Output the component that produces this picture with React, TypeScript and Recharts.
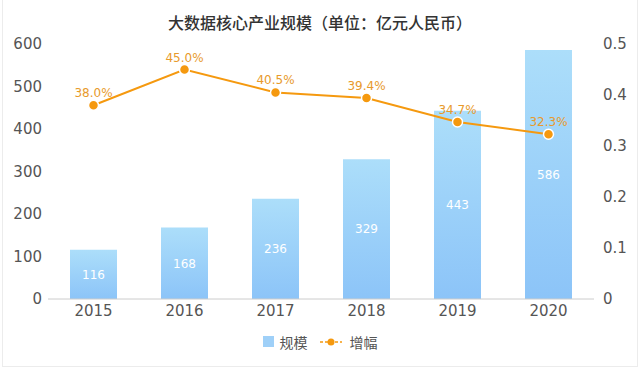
import React from "react"
import { ComposedChart, Bar, Line, XAxis, YAxis, LabelList, Legend } from "recharts"

const years = ["2015", "2016", "2017", "2018", "2019", "2020"]
const scale = [116, 168, 236, 329, 443, 586]
const growth = [0.38, 0.45, 0.405, 0.394, 0.347, 0.323]
const leftTicks = [0, 100, 200, 300, 400, 500, 600]
const rightTicks = [0, 0.1, 0.2, 0.3, 0.4, 0.5]

const data = years.map((year, i) => ({ year, scale: scale[i], growth: growth[i] }))

const numFont = "'DejaVu Sans', Verdana, sans-serif"
const cjkFont = "'Noto Sans CJK SC', sans-serif"
const orange = "#f5990f"

function LegendBox() {
  return (
    <div style={{ display: "flex", justifyContent: "center", alignItems: "center", height: 39, paddingBottom: 14, boxSizing: "border-box", fontFamily: cjkFont, fontSize: 14, color: "#555" }}>
      <span style={{ width: 11, height: 11, background: "#9fd0f8", display: "inline-block", marginRight: 6 }} />
      <span style={{ marginRight: 12 }}>规模</span>
      <svg width={22} height={12} style={{ marginRight: 8 }}>
        <line x1={0} y1={6} x2={22} y2={6} stroke={orange} strokeWidth={1.5} strokeDasharray="3 2" />
        <circle cx={11} cy={6} r={3.5} fill={orange} />
      </svg>
      <span>增幅</span>
    </div>
  )
}

export default function App() {
  return (
    <div style={{ position: "fixed", left: 0, top: 0, width: 640, height: 368, background: "#fff" }}>
      <div style={{ position: "absolute", left: 2, top: 0, width: 634, height: 366, borderLeft: "1px solid #ececec", borderRight: "1px solid #ececec", borderBottom: "1px solid #ececec" }} />
      <div style={{ position: "absolute", left: 0, top: 10, width: 640, textAlign: "center", fontFamily: cjkFont, fontSize: 16, color: "#333", fontWeight: 500 }}>
        大数据核心产业规模（单位：亿元人民币）
      </div>
      <ComposedChart width={640} height={368} data={data} margin={{ top: 44, right: 0, bottom: 0, left: 0 }}>
        <defs>
          <linearGradient id="barGrad" x1="0" y1="0" x2="0" y2="1">
            <stop offset="0%" stopColor="#acdefa" />
            <stop offset="100%" stopColor="#8cc4f8" />
          </linearGradient>
        </defs>
        <XAxis
          dataKey="year"
          height={30}
          axisLine={{ stroke: "#cccccc" }}
          tickLine={false}
          tickSize={0}
          tickMargin={6}
          tick={{ fill: "#555", fontSize: 15, fontFamily: numFont }}
        />
        <YAxis
          yAxisId="left"
          width={48}
          domain={[0, 600]}
          ticks={leftTicks}
          axisLine={false}
          tickLine={false}
          tickSize={0}
          tickMargin={6}
          tick={{ fill: "#555", fontSize: 15, fontFamily: numFont }}
        />
        <YAxis
          yAxisId="right"
          orientation="right"
          width={46}
          domain={[0, 0.5]}
          ticks={rightTicks}
          axisLine={false}
          tickLine={false}
          tickSize={0}
          tickMargin={9}
          tick={{ fill: "#555", fontSize: 15, fontFamily: numFont }}
        />
        <Legend verticalAlign="bottom" height={39} content={<LegendBox />} />
        <Bar yAxisId="left" dataKey="scale" name="规模" barSize={47} fill="url(#barGrad)" isAnimationActive={false}>
          <LabelList dataKey="scale" position="center" fill="#fff" fontSize={12} fontFamily={numFont} />
        </Bar>
        <Line
          yAxisId="right"
          dataKey="growth"
          name="增幅"
          type="linear"
          stroke={orange}
          strokeWidth={2}
          dot={{ r: 5, fill: orange, stroke: "#fff", strokeWidth: 1.5 }}
          isAnimationActive={false}
        >
          <LabelList
            dataKey="growth"
            position="top"
            offset={8}
            fill="#e89a2c"
            fontSize={12}
            fontFamily={numFont}
            formatter={(v: number) => `${(v * 100).toFixed(1)}%`}
          />
        </Line>
      </ComposedChart>
    </div>
  )
}
